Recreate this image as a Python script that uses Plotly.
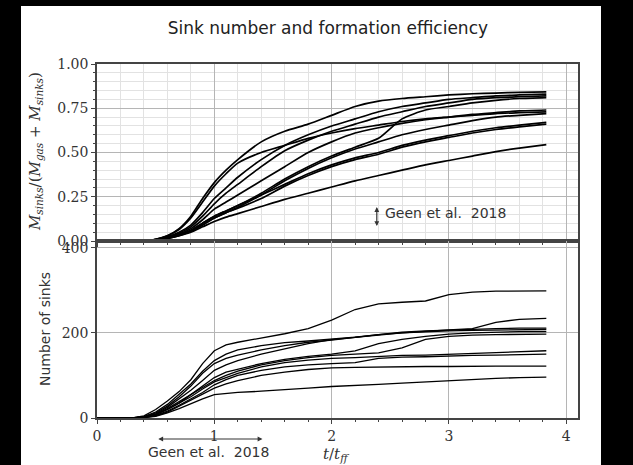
import plotly.graph_objects as go

# shared time grid (t / t_ff)
T = [0, 0.3, 0.4, 0.5, 0.6, 0.7, 0.8, 0.9, 1.0, 1.1, 1.2, 1.4, 1.6, 1.8, 2.0, 2.2, 2.4, 2.6, 2.8, 3.0, 3.2, 3.4, 3.6, 3.83]

# star formation efficiency  M_sinks / (M_gas + M_sinks)
eff_1 = [0, 0, 0.002, 0.01, 0.03, 0.07, 0.14, 0.24, 0.33, 0.40, 0.46, 0.56, 0.62, 0.66, 0.71, 0.76, 0.79, 0.805, 0.815, 0.825, 0.832, 0.836, 0.84, 0.842]
eff_2 = [0, 0, 0.002, 0.01, 0.03, 0.065, 0.13, 0.22, 0.31, 0.38, 0.44, 0.50, 0.54, 0.58, 0.61, 0.635, 0.655, 0.675, 0.69, 0.70, 0.71, 0.72, 0.725, 0.73]
eff_3 = [0, 0, 0.002, 0.008, 0.025, 0.05, 0.09, 0.16, 0.24, 0.30, 0.36, 0.46, 0.54, 0.60, 0.65, 0.69, 0.73, 0.76, 0.78, 0.80, 0.81, 0.82, 0.825, 0.83]
eff_4 = [0, 0, 0.002, 0.008, 0.02, 0.045, 0.08, 0.14, 0.21, 0.27, 0.32, 0.42, 0.51, 0.57, 0.62, 0.66, 0.70, 0.73, 0.76, 0.78, 0.80, 0.81, 0.815, 0.82]
eff_5 = [0, 0, 0.001, 0.006, 0.018, 0.035, 0.06, 0.10, 0.14, 0.17, 0.20, 0.27, 0.35, 0.42, 0.48, 0.53, 0.58, 0.69, 0.74, 0.76, 0.78, 0.795, 0.805, 0.81]
eff_6 = [0, 0, 0.002, 0.007, 0.02, 0.04, 0.07, 0.12, 0.18, 0.22, 0.26, 0.34, 0.42, 0.50, 0.56, 0.61, 0.64, 0.665, 0.685, 0.70, 0.715, 0.725, 0.735, 0.74]
eff_7 = [0, 0, 0.001, 0.006, 0.017, 0.033, 0.055, 0.09, 0.13, 0.16, 0.19, 0.26, 0.34, 0.41, 0.47, 0.52, 0.56, 0.60, 0.63, 0.655, 0.68, 0.70, 0.71, 0.72]
eff_8 = [0, 0, 0.001, 0.006, 0.017, 0.035, 0.06, 0.10, 0.14, 0.17, 0.20, 0.26, 0.32, 0.38, 0.43, 0.47, 0.50, 0.54, 0.57, 0.595, 0.62, 0.64, 0.655, 0.67]
eff_9 = [0, 0, 0.001, 0.005, 0.015, 0.03, 0.055, 0.09, 0.13, 0.16, 0.185, 0.24, 0.31, 0.37, 0.42, 0.46, 0.49, 0.53, 0.56, 0.585, 0.61, 0.63, 0.645, 0.66]
eff_10 = [0, 0, 0.001, 0.005, 0.014, 0.03, 0.05, 0.08, 0.11, 0.135, 0.155, 0.195, 0.235, 0.27, 0.305, 0.34, 0.37, 0.40, 0.43, 0.455, 0.48, 0.505, 0.525, 0.545]

# number of sinks
sinks_1 = [0, 0, 5, 20, 40, 62, 90, 128, 158, 172, 178, 188, 198, 210, 230, 255, 268, 272, 275, 290, 296, 298, 299, 299]
sinks_2 = [0, 0, 3, 12, 28, 50, 75, 105, 128, 140, 148, 160, 170, 178, 183, 190, 196, 200, 204, 207, 210, 225, 232, 234]
sinks_3 = [0, 0, 3, 14, 32, 55, 80, 110, 135, 150, 160, 170, 177, 181, 185, 190, 196, 202, 205, 207, 209, 210, 211, 211]
sinks_4 = [0, 0, 2, 10, 25, 45, 65, 88, 112, 125, 135, 150, 163, 175, 184, 190, 195, 200, 203, 205, 206, 207, 208, 208]
sinks_5 = [0, 0, 2, 8, 20, 35, 55, 75, 95, 108, 115, 128, 138, 145, 150, 158, 175, 185, 192, 197, 200, 202, 203, 203]
sinks_6 = [0, 0, 2, 9, 22, 38, 55, 72, 88, 100, 110, 125, 135, 142, 147, 150, 153, 165, 185, 192, 195, 196, 197, 197]
sinks_7 = [0, 0, 2, 8, 20, 35, 50, 68, 85, 95, 105, 120, 130, 136, 140, 142, 145, 147, 148, 150, 152, 155, 157, 158]
sinks_8 = [0, 0, 1, 6, 16, 30, 45, 60, 78, 90, 100, 112, 120, 125, 128, 130, 140, 143, 144, 146, 147, 148, 149, 150]
sinks_9 = [0, 0, 1, 5, 14, 28, 42, 55, 70, 80, 88, 100, 108, 114, 118, 119, 120, 120, 121, 121, 122, 122, 122, 122]
sinks_10 = [0, 0, 1, 4, 12, 22, 34, 45, 55, 58, 60, 63, 66, 70, 74, 76, 79, 82, 85, 88, 90, 93, 95, 96]

eff_runs = [eff_1, eff_2, eff_3, eff_4, eff_5, eff_6, eff_7, eff_8, eff_9, eff_10]
sink_runs = [sinks_1, sinks_2, sinks_3, sinks_4, sinks_5, sinks_6, sinks_7, sinks_8, sinks_9, sinks_10]

x_ticks = [0, 1, 2, 3, 4]
eff_ticks = [0, 0.25, 0.5, 0.75, 1.0]
eff_ticklabels = ["0.00", "0.25", "0.50", "0.75", "1.00"]
sink_ticks = [0, 200, 400]

# Geen et al. 2018 ranges
geen_t = [0.51, 1.41]
geen_eff = [0.085, 0.2]

fig = go.Figure()
for e in eff_runs:
    fig.add_trace(go.Scatter(x=T, y=e, mode="lines", xaxis="x", yaxis="y",
                             line=dict(color="black", width=1.7, shape="spline", smoothing=0.6),
                             showlegend=False, hoverinfo="skip"))
for s in sink_runs:
    fig.add_trace(go.Scatter(x=T, y=s, mode="lines", xaxis="x2", yaxis="y2",
                             line=dict(color="black", width=1.3),
                             showlegend=False, hoverinfo="skip"))

serif = "DejaVu Serif"
sans = "DejaVu Sans"
tickfont = dict(family=serif, size=14, color="#333")
frame = dict(showline=True, mirror=True, linecolor="#444", linewidth=1.5)

fig.update_layout(
    width=633, height=465,
    margin=dict(l=97, r=55, t=64, b=47),
    paper_bgcolor="white", plot_bgcolor="white",
    title=dict(text="Sink number and formation efficiency", x=0.518, xanchor="center",
               y=1 - 28 / 465, yanchor="middle", font=dict(family=sans, size=17, color="#222")),
    xaxis=dict(domain=[0, 1], anchor="y", range=[0, 4.1], tickvals=x_ticks, showticklabels=False,
               showgrid=True, gridcolor="#b5b5b5", gridwidth=1, zeroline=False,
               ticks="outside", ticklen=4, tickcolor="#444",
               minor=dict(dtick=0.2, tick0=0, showgrid=True, gridcolor="#e2e2e2", gridwidth=1,
                          ticks="outside", ticklen=2, tickcolor="#444"),
               **frame),
    yaxis=dict(domain=[0.5, 1], anchor="x", range=[0, 1.0], tickvals=eff_ticks, ticktext=eff_ticklabels,
               tickfont=tickfont, showgrid=True, gridcolor="#b5b5b5", gridwidth=1, zeroline=False,
               ticks="outside", ticklen=4, tickcolor="#444",
               minor=dict(dtick=0.05, tick0=0, showgrid=True, gridcolor="#e2e2e2", gridwidth=1,
                          ticks="outside", ticklen=2, tickcolor="#444"),
               **frame),
    xaxis2=dict(domain=[0, 1], anchor="y2", range=[0, 4.1], matches="x", tickvals=x_ticks,
                tickfont=tickfont, showgrid=True, gridcolor="#b5b5b5", gridwidth=1, zeroline=False,
                ticks="outside", ticklen=4, tickcolor="#444",
                minor=dict(dtick=0.2, tick0=0, showgrid=False, ticks="outside", ticklen=2, tickcolor="#444"),
                **frame),
    yaxis2=dict(domain=[0, 0.5], anchor="x2", range=[0, 416], tickvals=sink_ticks,
                tickfont=tickfont, showgrid=True, gridcolor="#b5b5b5", gridwidth=1, zeroline=False,
                ticks="outside", ticklen=4, tickcolor="#444",
                **frame),
)

W = 481.0
H = 354.0
def px_x(p):
    return (p - 97) / W
def px_y(p):
    return (418 - p) / H

annotations = [
    # axis titles
    dict(text="<i>M</i><sub><i>sinks</i></sub>/(<i>M</i><sub><i>gas</i></sub> + <i>M</i><sub><i>sinks</i></sub>)",
         xref="paper", yref="paper", x=px_x(35), y=px_y(152), textangle=-90, showarrow=False,
         font=dict(family=serif, size=15, color="#333"), xanchor="center", yanchor="middle"),
    dict(text="Number of sinks", xref="paper", yref="paper", x=px_x(45), y=px_y(329), textangle=-90,
         showarrow=False, font=dict(family=sans, size=14, color="#333"), xanchor="center", yanchor="middle"),
    dict(text="<i>t</i>/<i>t</i><sub><i>ff</i></sub>", xref="paper", yref="paper", x=px_x(336), y=px_y(454),
         showarrow=False, font=dict(family=serif, size=15, color="#333"), xanchor="center", yanchor="middle"),
    # Geen et al. efficiency range (upper)
    dict(x=2.385, y=geen_eff[0], xref="x", yref="y", ax=2.385, ay=geen_eff[1], axref="x", ayref="y",
         text="", showarrow=True, arrowhead=2, startarrowhead=2, arrowside="end+start",
         arrowsize=0.8, startarrowsize=0.8, arrowwidth=1.2, arrowcolor="#333", standoff=0, startstandoff=0),
    dict(text="Geen et al.  2018", x=2.44, y=0.16, xref="x", yref="y", showarrow=False, xanchor="left",
         yanchor="middle", font=dict(family=sans, size=14, color="#333")),
    # Geen et al. time range (below lower axis)
    dict(x=geen_t[1], y=px_y(439), xref="x2", yref="paper", ax=geen_t[0], ay=0, axref="x2", ayref="pixel",
         text="", showarrow=True, arrowhead=2, startarrowhead=2, arrowside="end+start",
         arrowsize=0.8, startarrowsize=0.8, arrowwidth=1.2, arrowcolor="#333", standoff=0, startstandoff=0),
    dict(text="Geen et al.  2018", x=px_x(208), y=px_y(452), xref="paper", yref="paper", showarrow=False,
         xanchor="center", yanchor="middle", font=dict(family=sans, size=14, color="#333")),
]
fig.update_layout(annotations=annotations)

# black borders of the picture
shapes = [
    dict(type="rect", xref="paper", yref="paper", x0=-0.5, x1=px_x(21), y0=-0.5, y1=1.5,
         fillcolor="black", line=dict(width=0), layer="above"),
    dict(type="rect", xref="paper", yref="paper", x0=px_x(601), x1=1.5, y0=-0.5, y1=1.5,
         fillcolor="black", line=dict(width=0), layer="above"),
    dict(type="rect", xref="paper", yref="paper", x0=-0.5, x1=1.5, y0=px_y(6), y1=1.5,
         fillcolor="black", line=dict(width=0), layer="above"),
]
fig.update_layout(shapes=shapes)

fig.write_html("out.html")
